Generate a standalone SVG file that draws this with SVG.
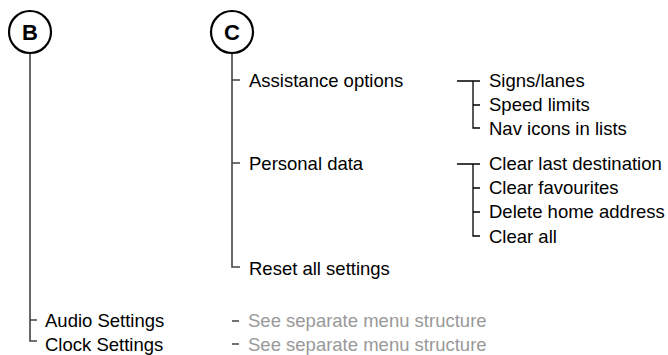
<svg xmlns="http://www.w3.org/2000/svg" width="668" height="355" viewBox="0 0 668 355">
<style>
.t{font-family:"Liberation Sans",Arial,sans-serif;font-size:18.5px;fill:#000}
.g{font-family:"Liberation Sans",Arial,sans-serif;font-size:18.5px;fill:#999}
.c{fill:#fff;stroke:#000;stroke-width:2.2}
.cl{font-family:"Liberation Sans",Arial,sans-serif;font-size:22px;font-weight:bold;fill:#000}
.ln{fill:none;stroke:#444;stroke-width:1.6}
.lk{fill:none;stroke:#000;stroke-width:1.3}
.lg{fill:none;stroke:#444;stroke-width:1.3}
</style>
<rect width="668" height="355" fill="#fff"/>
<g id="connectors">
<path class="ln" d="M30 53V341H37M30 320H37"/>
<path class="ln" d="M232 53V267H240M232 80H240M232 163H240"/>
<path class="lk" d="M457 81H480M473 81V128H480M473 105H480"/>
<path class="lk" d="M457 164H480M473 164V236H480M473 188H480M473 212H480"/>
<path class="lg" d="M232 321H239M232 344H239"/>
</g>
<g id="nodeB"><circle class="c" cx="30" cy="32" r="21"/><text class="cl" x="30" y="40" text-anchor="middle">B</text></g>
<g id="nodeC"><circle class="c" cx="232" cy="32" r="21"/><text class="cl" x="232" y="40" text-anchor="middle">C</text></g>
<g id="assistance"><text class="t" x="249" y="87">Assistance options</text></g>
<g id="signs"><text class="t" x="489" y="87">Signs/lanes</text></g>
<g id="speed"><text class="t" x="489" y="111">Speed limits</text></g>
<g id="navicons"><text class="t" x="489" y="135">Nav icons in lists</text></g>
<g id="personal"><text class="t" x="249" y="170">Personal data</text></g>
<g id="clearlast"><text class="t" x="489" y="170">Clear last destination</text></g>
<g id="clearfav"><text class="t" x="489" y="194">Clear favourites</text></g>
<g id="deletehome"><text class="t" x="489" y="218">Delete home address</text></g>
<g id="clearall"><text class="t" x="489" y="243">Clear all</text></g>
<g id="reset"><text class="t" x="249" y="275">Reset all settings</text></g>
<g id="audio"><text class="t" x="45" y="327">Audio Settings</text></g>
<g id="clock"><text class="t" x="45" y="351">Clock Settings</text></g>
<g id="see1"><text class="g" x="248" y="327">See separate menu structure</text></g>
<g id="see2"><text class="g" x="248" y="351">See separate menu structure</text></g>
</svg>
